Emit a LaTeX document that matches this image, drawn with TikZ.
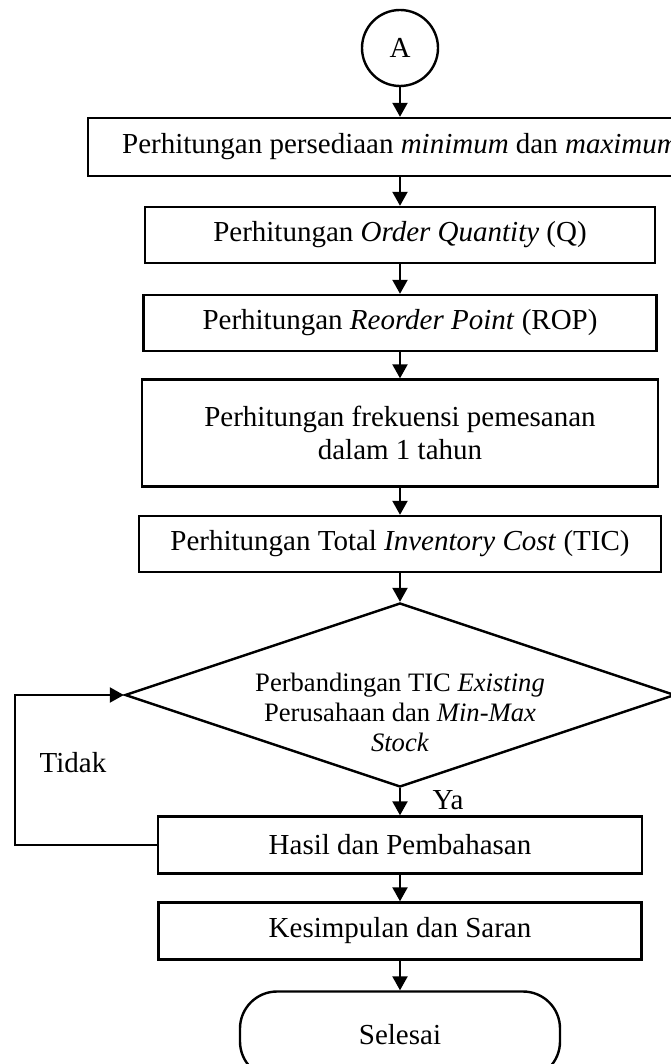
\documentclass[tikz,border=0pt]{standalone}
\usepackage{fontspec}
\setmainfont{Liberation Serif}
\usetikzlibrary{arrows.meta,shapes.geometric}

\begin{document}
\begin{tikzpicture}[x=1pt,y=-1pt,
  box/.style={draw=black,line width=2.4pt,align=center,
    font=\fontsize{29}{33}\selectfont,inner sep=0pt},
  connector/.style={box,circle,minimum size=76pt},
  decision/.style={draw=black,line width=2.4pt,diamond,aspect=3,
    minimum width=550pt,minimum height=184pt,inner sep=0pt},
  terminal/.style={box,rounded corners=37pt},
  lbl/.style={align=center,font=\fontsize{26.6}{30}\selectfont},
  flow/.style={-{Triangle[length=14pt,width=15pt]},line width=2.2pt}]
\useasboundingbox (0,0) rectangle (670,1064);
\node[connector] (a) at (400,48) {A};
\node[box,minimum width=624pt,minimum height=58pt] (minmax) at (400,147)
  {Perhitungan persediaan \textit{minimum} dan \textit{maximum}};
\node[box,minimum width=510pt,minimum height=56pt] (oq) at (400,235)
  {Perhitungan \textit{Order Quantity} (Q)};
\node[box,minimum width=513pt,minimum height=56pt] (rop) at (400,323)
  {Perhitungan \textit{Reorder Point} (ROP)};
\node[box,minimum width=516pt,minimum height=107pt] (frek) at (400,433)
  {Perhitungan frekuensi pemesanan\\dalam 1 tahun};
\node[box,minimum width=522pt,minimum height=56pt] (tic) at (400,544)
  {Perhitungan Total \textit{Inventory Cost} (TIC)};
\node[decision] (cmp) at (400,695) {};
\node[lbl] (cmptext) at (400,712)
  {Perbandingan TIC \textit{Existing}\\Perusahaan dan \textit{Min-Max}\\\textit{Stock}};
\node[box,minimum width=484pt,minimum height=57pt] (hasil) at (400,845)
  {Hasil dan Pembahasan};
\node[box,minimum width=483pt,minimum height=57pt] (kes) at (400,931)
  {Kesimpulan dan Saran};
\node[terminal,minimum width=320pt,minimum height=87pt] (end) at (400,1035)
  {Selesai};
\coordinate (bend) at (15,845);
\node[font=\fontsize{29}{33}\selectfont] (tidak) at (73,763) {Tidak};
\node[font=\fontsize{29}{33}\selectfont] (ya) at (448,800) {Ya};
\draw[flow] (a) -- (minmax);
\draw[flow] (minmax) -- (oq);
\draw[flow] (oq) -- (rop);
\draw[flow] (rop) -- (frek);
\draw[flow] (frek) -- (tic);
\draw[flow] (tic) -- (cmp);
\draw[flow] (cmp) -- (hasil);
\draw[flow] (hasil) -- (kes);
\draw[flow] (kes) -- (end);
\draw[flow] (hasil.west) -- (bend) |- (cmp.west);
\end{tikzpicture}
\end{document}
